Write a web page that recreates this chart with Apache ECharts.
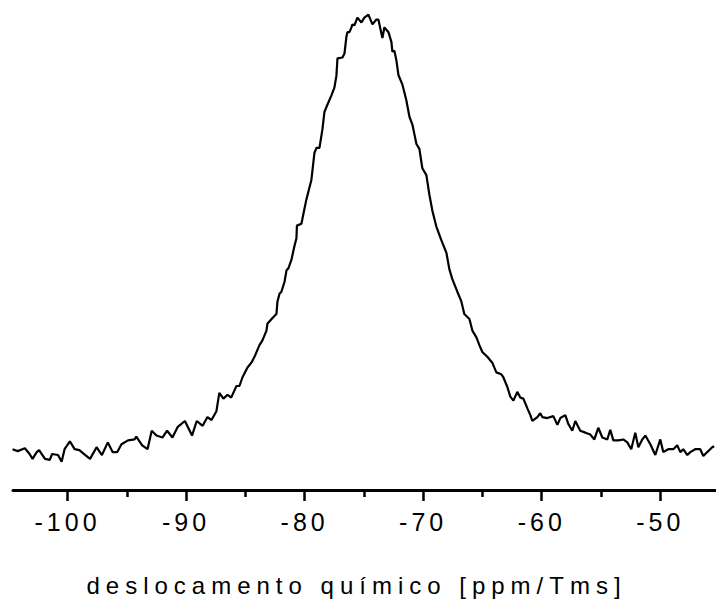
<!DOCTYPE html>
<html><head><meta charset="utf-8">
<script src="https://cdn.jsdelivr.net/npm/echarts@6/dist/echarts.min.js"></script>
<style>html,body{margin:0;padding:0;background:#fff}#c{width:716px;height:602px}</style>
</head><body><div id="c"></div>
<script>
// chemical shift (ppm) and intensity (arbitrary units)
const shiftPpm = [
-104.64,-104.2,-103.6,-103.2,-102.95,-102.6,-102.4,-101.9,-101.5,-101.3,-100.8,-100.5,-100.25,-99.8,-99.4,-99.0,-98.6,-98.1,-97.55,-97.1,
-96.6,-96.2,-95.8,-95.45,-94.9,-94.35,-94.2,-93.7,-93.25,-92.9,-92.5,-92.0,-91.6,-91.15,-90.7,-90.1,-89.5,-89.1,-88.6,-88.2,
-87.86,-87.44,-87.2,-86.85,-86.5,-86.2,-85.75,-85.5,-85.24,-84.82,-84.49,-84.23,-83.81,-83.56,-83.22,-83.14,-82.71,-82.38,-82.29,-82.12,
-81.96,-81.70,-81.53,-81.37,-81.11,-80.86,-80.69,-80.65,-80.27,-80.02,-79.85,-79.43,-79.17,-79.00,-78.75,-78.50,-78.33,-78.16,-77.74,-77.49,
-77.32,-77.23,-76.81,-76.64,-76.48,-76.39,-76.22,-76.05,-75.97,-75.80,-75.55,-75.21,-74.96,-74.62,-74.28,-73.95,-73.78,-73.44,-73.27,-72.93,
-72.68,-72.60,-72.43,-72.26,-72.09,-71.75,-71.42,-71.16,-70.91,-70.57,-70.32,-70.07,-69.73,-69.48,-69.22,-68.89,-68.47,-68.04,-67.79,-67.54,
-67.12,-66.78,-66.53,-66.10,-65.85,-65.51,-65.26,-65.01,-64.59,-64.17,-63.83,-63.41,-63.24,-62.90,-62.65,-62.39,-62.06,-61.80,-61.55,-61.21,
-60.96,-60.79,-60.37,-60.12,-59.95,-59.53,-59.02,-58.68,-58.43,-58.01,-57.76,-57.42,-57.17,-56.75,-56.32,-55.90,-55.56,-55.23,-54.89,-54.47,
-54.22,-53.96,-53.54,-53.12,-52.78,-52.45,-52.11,-51.85,-51.52,-51.26,-50.84,-50.42,-50.00,-49.75,-49.33,-48.90,-48.57,-48.31,-48.06,-47.72,
-47.47,-47.05,-46.63,-46.37,-46.04,-45.62,-45.45
];
const intensity = [
8.4,8.0,8.6,7.4,6.4,7.8,8.2,6.4,6.2,7.4,7.2,5.8,8.4,10.0,8.4,8.2,7.4,6.4,8.8,7.2,
9.8,7.8,7.8,9.4,10.2,10.4,11.0,9.2,8.4,12.2,11.2,10.8,12.2,10.8,13.0,14.2,11.2,14.2,13.2,15.0,
14.4,16.2,20.0,18.8,19.6,19.0,21.4,21.4,23.2,25.2,26.2,27.4,29.8,30.8,32.8,34.2,35.4,36.2,38.8,40.4,
40.8,42.8,45.2,45.6,47.4,50.2,51.8,54.4,54.8,57.8,59.8,63.8,69.4,70.4,70.4,74.2,77.8,78.8,81.2,82.8,
85.2,88.8,89.0,89.8,93.2,94.2,94.2,95.2,95.8,95.6,97.2,96.2,97.2,97.8,95.8,96.8,96.8,93.0,95.2,94.2,
92.2,90.2,90.4,88.4,85.4,83.4,80.2,76.8,75.2,71.2,70.2,66.2,64.8,60.8,57.4,54.2,51.4,48.8,45.4,43.4,
40.8,38.8,36.2,35.2,32.8,31.4,29.8,28.4,27.4,26.2,24.2,23.8,23.2,21.2,19.2,18.4,20.2,19.0,18.8,16.8,
15.4,14.2,15.0,15.8,15.0,14.8,15.2,13.4,14.8,15.4,13.6,12.2,14.2,12.2,11.8,11.4,10.4,12.8,10.8,10.4,
12.4,10.2,10.2,10.4,9.8,8.4,11.8,8.8,10.4,11.2,9.4,7.2,10.4,7.8,8.4,8.4,9.2,7.8,8.4,7.2,
7.8,8.4,8.4,7.0,7.8,8.8,9.0
];
const majorTicks = [-100, -90, -80, -70, -60, -50];
const minorTicks = [-95, -85, -75, -65, -55];
const axisTitle = 'deslocamento químico [ppm/Tms]';

const points = shiftPpm.map((x, i) => [x, intensity[i]]);
const font = "'Liberation Sans', Arial, Helvetica, sans-serif";
const chart = echarts.init(document.getElementById('c'), null, {renderer: 'svg'});
const xMin = -104.6, xMax = -45.3;
chart.setOption({
  animation: false,
  backgroundColor: '#ffffff',
  grid: {left: 13, right: 0, top: 4, bottom: 98},
  xAxis: [{
    type: 'value', min: xMin, max: xMax, position: 'bottom',
    axisLine: {show: true, onZero: false, lineStyle: {color: '#000', width: 3}},
    axisTick: {show: true, customValues: majorTicks, length: 11, lineStyle: {color: '#000', width: 2.5}},
    axisLabel: {show: true, customValues: majorTicks, margin: 19, color: '#000', fontSize: 25, fontFamily: font},
    splitLine: {show: false},
    name: axisTitle, nameLocation: 'middle', nameGap: 83,
    nameTextStyle: {color: '#000', fontSize: 24, fontFamily: font, padding: [0, 16, 0, 0]}
  }, {
    type: 'value', min: xMin, max: xMax, position: 'bottom',
    axisLine: {show: false, onZero: false},
    axisTick: {show: true, customValues: minorTicks, length: 7, lineStyle: {color: '#000', width: 2.5}},
    axisLabel: {show: false},
    splitLine: {show: false}
  }],
  yAxis: {type: 'value', min: 0, max: 100, show: false},
  series: [{
    type: 'line', xAxisIndex: 0, data: points, showSymbol: false,
    lineStyle: {color: '#000', width: 2.2}
  }]
});
function applySpacing() {
  document.querySelectorAll('#c svg text').forEach(t => {
    const s = t.textContent || '';
    t.setAttribute('letter-spacing', s.indexOf('deslocamento') >= 0 ? '6' : '4');
  });
}
chart.on('finished', applySpacing);
applySpacing();
</script></body></html>
